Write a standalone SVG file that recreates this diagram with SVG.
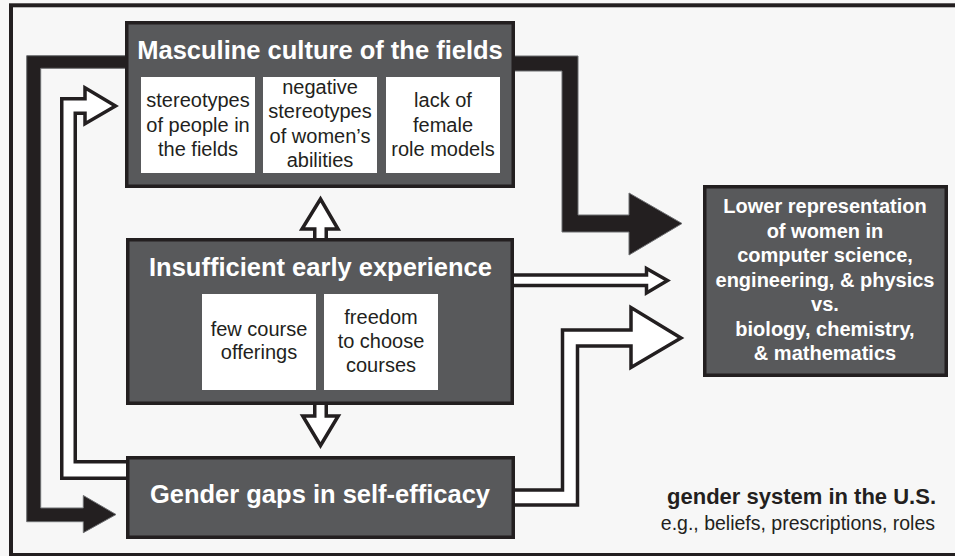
<svg xmlns="http://www.w3.org/2000/svg" width="955" height="556" viewBox="0 0 955 556">
<style>
.box{fill:#58595b;stroke:#231f20;stroke-width:3.5}
.wbox{fill:#ffffff}
.title{font-family:"Liberation Sans",Arial,Helvetica,sans-serif;font-weight:bold;font-size:25.5px;fill:#ffffff;text-anchor:middle}
.sub{font-family:"Liberation Sans",Arial,Helvetica,sans-serif;font-size:20px;fill:#231f20;text-anchor:middle}
.out{font-family:"Liberation Sans",Arial,Helvetica,sans-serif;font-weight:bold;font-size:20px;fill:#ffffff;text-anchor:middle}
.blk{fill:#231f20;stroke:#6d6e71;stroke-width:1}
.wht{fill:#ffffff;stroke:#231f20;stroke-width:3.5;stroke-linejoin:miter}
.note{font-family:"Liberation Sans",Arial,Helvetica,sans-serif;fill:#231f20;text-anchor:end}
</style>
<rect x="0" y="0" width="955" height="556" fill="#f7f7f7"/>
<rect id="frame" x="11" y="5.3" width="960" height="549.7" fill="#f7f7f7" stroke="#231f20" stroke-width="4"/>

<g id="connectors">
  <path class="blk" d="M130,55.7 L26.7,55.7 L26.7,521.7 L83.3,521.7 L83.3,532.7 L116,514.5 L83.3,495.5 L83.3,508 L40.7,508 L40.7,68.3 L130,68.3 Z"/>
  <path class="blk" d="M510,56 L578,56 L578,215 L629,215 L629,193 L682,223.5 L629,255 L629,232 L562,232 L562,71 L510,71 Z"/>
  <path class="wht" d="M130,478.25 L61.75,478.25 L61.75,98.75 L85,98.75 L85,87.75 L115.5,106 L85,123.75 L85,113.25 L75.25,113.25 L75.25,461.75 L130,461.75 Z"/>
  <path class="wht" d="M314.75,245 L314.75,229 L302,229 L320.5,199 L338,229 L326.25,229 L326.25,245 Z"/>
  <path class="wht" d="M314.75,398 L314.75,416 L302.75,416 L320.5,445.5 L338.25,416 L326.25,416 L326.25,398 Z"/>
  <path class="wht" d="M505,285.5 L646.5,285.5 L646.5,293 L667.5,280.5 L646.5,268.5 L646.5,275 L505,275 Z"/>
  <path class="wht" d="M505,505 L577.5,505 L577.5,346 L631,346 L631,367.5 L681,338 L631,307.5 L631,330 L562.5,330 L562.5,490 L505,490 Z"/>
</g>

<g id="masculine">
  <rect class="box" x="126.75" y="22.75" width="386.5" height="163.5"/>
  <text class="title" x="320" y="59">Masculine culture of the fields</text>
  <rect class="wbox" x="141" y="77" width="114" height="96"/>
  <rect class="wbox" x="263" y="77" width="114" height="96"/>
  <rect class="wbox" x="386" y="77" width="114" height="96"/>
  <text class="sub" x="198" y="107">stereotypes</text>
  <text class="sub" x="198" y="132">of people in</text>
  <text class="sub" x="198" y="156">the fields</text>
  <text class="sub" x="320" y="94">negative</text>
  <text class="sub" x="320" y="118">stereotypes</text>
  <text class="sub" x="320" y="143">of women’s</text>
  <text class="sub" x="320" y="167">abilities</text>
  <text class="sub" x="443" y="107">lack of</text>
  <text class="sub" x="443" y="132">female</text>
  <text class="sub" x="443" y="156">role models</text>
</g>

<g id="insufficient">
  <rect class="box" x="127.75" y="239.75" width="384.5" height="163.5"/>
  <text class="title" x="320.5" y="276">Insufficient early experience</text>
  <rect class="wbox" x="202" y="294" width="114" height="96"/>
  <rect class="wbox" x="324" y="294" width="114" height="96"/>
  <text class="sub" x="259" y="336">few course</text>
  <text class="sub" x="259" y="359">offerings</text>
  <text class="sub" x="381" y="324">freedom</text>
  <text class="sub" x="381" y="348">to choose</text>
  <text class="sub" x="381" y="372">courses</text>
</g>

<g id="gender">
  <rect class="box" x="127.75" y="457.75" width="385.5" height="79.5"/>
  <text class="title" x="320" y="503">Gender gaps in self-efficacy</text>
</g>

<g id="lower">
  <rect class="box" x="704.75" y="186.75" width="241.5" height="188.5"/>
  <text class="out" x="825" y="213">Lower representation</text>
  <text class="out" x="825" y="237.5">of women in</text>
  <text class="out" x="825" y="262">computer science,</text>
  <text class="out" x="825" y="286.5">engineering, &amp; physics</text>
  <text class="out" x="825" y="311">vs.</text>
  <text class="out" x="825" y="335.5">biology, chemistry,</text>
  <text class="out" x="825" y="360">&amp; mathematics</text>
</g>

<g id="system">
  <text class="note" x="936" y="504" font-size="22" font-weight="bold">gender system in the U.S.</text>
  <text class="note" x="935" y="529.5" font-size="19.5">e.g., beliefs, prescriptions, roles</text>
</g>
</svg>
